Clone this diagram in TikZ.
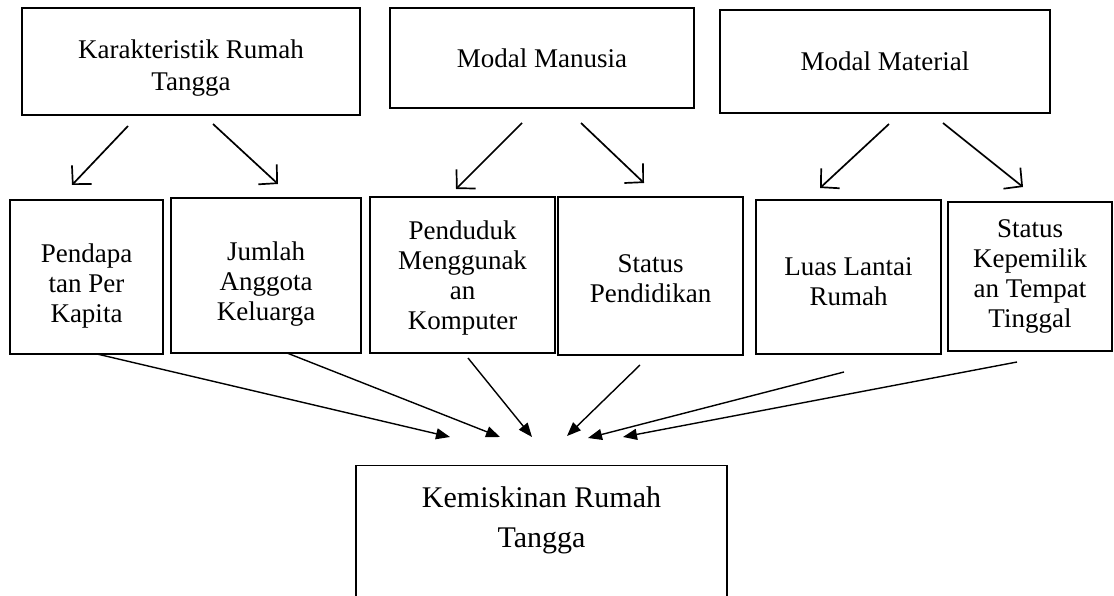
\documentclass[tikz,border=0pt]{standalone}
\usepackage{fontspec}
\setmainfont{Liberation Serif}
\usetikzlibrary{arrows.meta}

\newcommand{\boxfont}{\fontsize{27}{32}\selectfont}
\newcommand{\smallboxfont}{\fontsize{27}{30}\selectfont}
\newcommand{\bigboxfont}{\fontsize{30}{40}\selectfont}
\newcommand{\lift}[1]{\rule{0pt}{#1}}

\tikzset{
  box/.style={draw, line width=1.5pt, align=center, font=\boxfont, inner sep=0pt},
  subbox/.style={box, font=\smallboxfont},
  link/.style={line width=1.7pt, -{Straight Barb[length=13pt,width=27pt,line width=1.7pt]}},
  feed/.style={line width=1.4pt, -{Triangle[length=14pt,width=11pt]}},
}

\begin{document}
\begin{tikzpicture}[x=1pt, y=-1pt]
  \clip (0,0) rectangle (1114,596);

  % dimensions
  \node[box, minimum width=338pt, minimum height=107pt] (kar) at (191,61.5) {\lift{32pt}Karakteristik Rumah\\Tangga};
  \node[box, minimum width=304pt, minimum height=100pt] (man) at (542,58) {Modal Manusia};
  \node[box, minimum width=330pt, minimum height=103pt] (mat) at (885,61.5) {Modal Material};

  % indicators
  \node[subbox, minimum width=153pt, minimum height=154pt] (pkap) at (86.5,277) {\lift{36pt}Pendapa\\tan Per\\Kapita};
  \node[subbox, minimum width=190pt, minimum height=155pt] (jml) at (266,275.5) {\lift{36pt}Jumlah\\Anggota\\Keluarga};
  \node[subbox, minimum width=185pt, minimum height=156pt] (komp) at (462.5,275) {\lift{25pt}Penduduk\\Menggunak\\an\\Komputer};
  \node[subbox, minimum width=185pt, minimum height=158pt] (pend) at (650.5,276) {\lift{23pt}Status\\Pendidikan};
  \node[subbox, minimum width=185pt, minimum height=154pt] (luas) at (848.5,277) {\lift{28pt}Luas Lantai\\Rumah};
  \node[subbox, minimum width=164pt, minimum height=149pt] (milik) at (1030,276.5) {Status\\Kepemilik\\an Tempat\\Tinggal};

  % outcome
  \node[box, font=\bigboxfont, line width=1.2pt, minimum width=371pt, anchor=north, inner ysep=21pt] (poor) at (541.5,465)
    {Kemiskinan Rumah\\Tangga\\[70pt]\strut};

  % arrow ends
  \coordinate (kar-a) at (128,126);  \coordinate (pkap-in) at (72,185);
  \coordinate (kar-b) at (213,124);  \coordinate (jml-in) at (278,184);
  \coordinate (man-a) at (522,123);  \coordinate (komp-in) at (456,189);
  \coordinate (man-b) at (581,123);  \coordinate (pend-in) at (644,183);
  \coordinate (mat-a) at (889,124);  \coordinate (luas-in) at (820,188);
  \coordinate (mat-b) at (943,123);  \coordinate (milik-in) at (1023,187);

  \coordinate (pkap-out) at (97,354);   \coordinate (poor-a) at (450,437);
  \coordinate (jml-out) at (287,353);   \coordinate (poor-b) at (500,437);
  \coordinate (komp-out) at (468,358);  \coordinate (poor-c) at (532,437);
  \coordinate (pend-out) at (640,365);  \coordinate (poor-d) at (567,436);
  \coordinate (luas-out) at (844,372);  \coordinate (poor-e) at (588,438);
  \coordinate (milik-out) at (1017,362); \coordinate (poor-f) at (623,437);

  \foreach \from/\to in {kar-a/pkap-in, kar-b/jml-in, man-a/komp-in, man-b/pend-in, mat-a/luas-in, mat-b/milik-in}
    \draw[link] (\from) -- (\to);

  \foreach \from/\to in {pkap-out/poor-a, jml-out/poor-b, komp-out/poor-c, pend-out/poor-d, luas-out/poor-e, milik-out/poor-f}
    \draw[feed] (\from) -- (\to);
\end{tikzpicture}
\end{document}
